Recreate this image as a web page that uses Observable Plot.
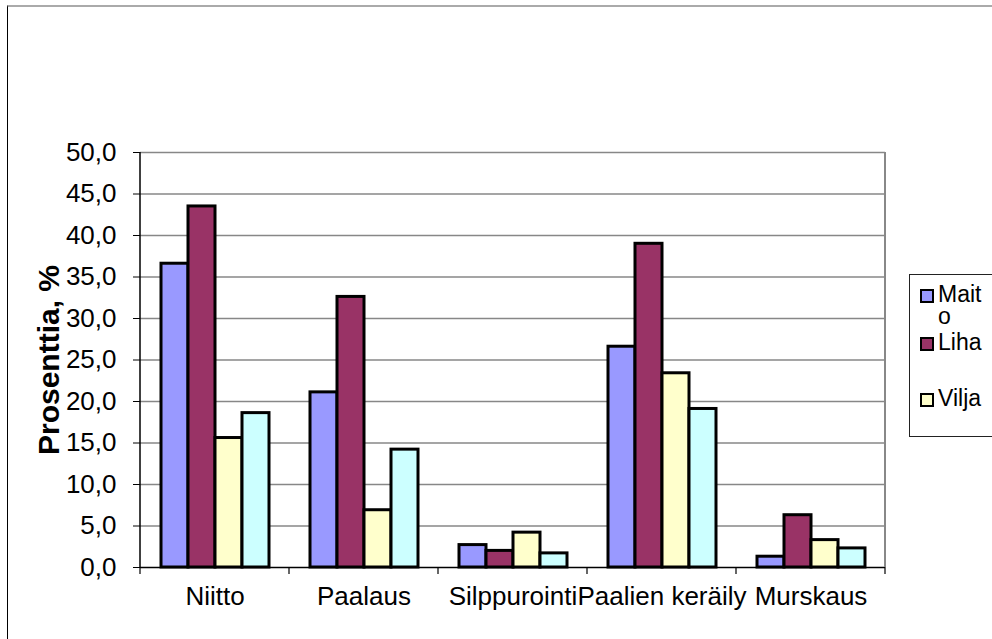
<!DOCTYPE html>
<html>
<head>
<meta charset="utf-8">
<script src="https://cdn.jsdelivr.net/npm/d3@7"></script>
<script src="https://cdn.jsdelivr.net/npm/@observablehq/plot@0.6"></script>
<style>
  html, body { margin: 0; padding: 0; background: #fff; }
  body { width: 992px; height: 639px; position: relative; overflow: hidden; font-family: "Liberation Sans", Arial, sans-serif; }
  #frame { position: absolute; left: 7px; top: 5px; right: -10px; bottom: -10px; border-top: 2px solid #aaaaaa; border-left: 1.5px solid #000; }
  #chart { position: absolute; left: 0; top: 0; }
  #legend { position: absolute; left: 909px; top: 274px; width: 120px; height: 161px; border: 1px solid #222; background: #fff; }
  .item { position: absolute; left: 10px; display: flex; align-items: flex-start; }
  .sw { width: 10px; height: 10px; border: 2.5px solid #000; margin-top: 6px; margin-right: 4px; flex: none; }
  .lab { width: 48px; font-size: 23px; line-height: 22px; word-break: break-all; color: #000; }
</style>
</head>
<body>
<div id="frame"></div>
<div id="chart"></div>
<div id="legend"></div>
<script>
const categories = ["Niitto", "Paalaus", "Silppurointi", "Paalien keräily", "Murskaus"];
const series = ["Maito", "Liha", "Vilja", "Muut"];
const maito = [36.6, 21.1, 2.7, 26.6, 1.3];
const liha  = [43.5, 32.6, 2.0, 39.0, 6.3];
const vilja = [15.6, 6.9, 4.2, 23.4, 3.3];
const muut  = [18.6, 14.2, 1.7, 19.1, 2.3];
const colors = ["#9999FF", "#993366", "#FFFFCC", "#CCFFFF"];
const yTicks = [0, 5, 10, 15, 20, 25, 30, 35, 40, 45, 50];
const legendShown = ["Maito", "Liha", "Vilja"];
const yLabel = "Prosenttia, %";

const valuesBySeries = [maito, liha, vilja, muut];
const table = [];
categories.forEach((c, i) => {
  series.forEach((s, j) => table.push({category: c, series: s, value: valuesBySeries[j][i]}));
});
const fmt = d => d.toFixed(1).replace(".", ",");

const decorations = Plot.frame({
  facet: "super",
  render: (index, scales, values, dimensions) => {
    const {width, height, marginLeft, marginRight, marginTop, marginBottom} = dimensions;
    const fx = scales.fx;
    let edges;
    if (fx && fx.bandwidth) {
      edges = categories.map(c => fx(c));
      edges.push(fx(categories[categories.length - 1]) + fx.bandwidth());
    } else {
      const step = (width - marginLeft - marginRight) / categories.length;
      edges = d3.range(categories.length + 1).map(i => marginLeft + i * step);
    }
    const y0 = scales.y ? scales.y(0) : height - marginBottom;
    const y1 = scales.y ? scales.y(50) : marginTop;
    const g = d3.create("svg:g");
    g.selectAll("line.t").data(edges).join("line")
      .attr("x1", d => d).attr("x2", d => d)
      .attr("y1", y0).attr("y2", y0 + 7)
      .attr("stroke", "#000").attr("stroke-width", 1.2);
    g.append("line")
      .attr("x1", edges[edges.length - 1]).attr("x2", edges[edges.length - 1])
      .attr("y1", y1).attr("y2", y0)
      .attr("stroke", "#888").attr("stroke-width", 2);
    g.append("line")
      .attr("x1", edges[0]).attr("x2", edges[0])
      .attr("y1", y1).attr("y2", y0 + 1)
      .attr("stroke", "#000").attr("stroke-width", 1.5);
    return g.node();
  }
});

const chart = Plot.plot({
  width: 992,
  height: 639,
  marginLeft: 138,
  marginRight: 106,
  marginTop: 152,
  marginBottom: 72,
  style: {background: "transparent", fontFamily: "'Liberation Sans', Arial, sans-serif", color: "#000"},
  fx: {domain: categories, paddingInner: 0, paddingOuter: 0, label: null},
  x: {domain: series, paddingInner: 0, paddingOuter: 0.72, axis: null},
  y: {domain: [0, 50], label: null},
  color: {domain: series, range: colors},
  marks: [
    Plot.gridY(yTicks.filter(d => d > 0), {stroke: "#878787", strokeOpacity: 1, strokeWidth: 1.5}),
    Plot.barY(table, {fx: "category", x: "series", y: "value", fill: "series", stroke: "#000", strokeWidth: 3}),
    Plot.ruleY([0], {stroke: "#000", strokeWidth: 1.5}),
    Plot.axisY({ticks: yTicks, tickFormat: fmt, tickSize: 7, tickPadding: 17, fontSize: 26, label: null, stroke: "#000"}),
    Plot.axisFx({anchor: "bottom", tickSize: 0, tickPadding: 19, fontSize: 26, label: null}),
    decorations,
    Plot.text([yLabel], {facet: "super", text: d => d, frameAnchor: "left", textAnchor: "middle", rotate: -90, dx: -91, fontSize: 30, fontWeight: "bold", fill: "#000"})
  ]
});
document.getElementById("chart").appendChild(chart);

const legend = document.getElementById("legend");
const rowTops = [8, 56, 112];
legendShown.forEach((s, i) => {
  const item = document.createElement("div");
  item.className = "item";
  item.style.top = rowTops[i] + "px";
  const sw = document.createElement("div");
  sw.className = "sw";
  sw.style.background = colors[series.indexOf(s)];
  const lab = document.createElement("div");
  lab.className = "lab";
  lab.textContent = s;
  item.appendChild(sw);
  item.appendChild(lab);
  legend.appendChild(item);
});
</script>
</body>
</html>
